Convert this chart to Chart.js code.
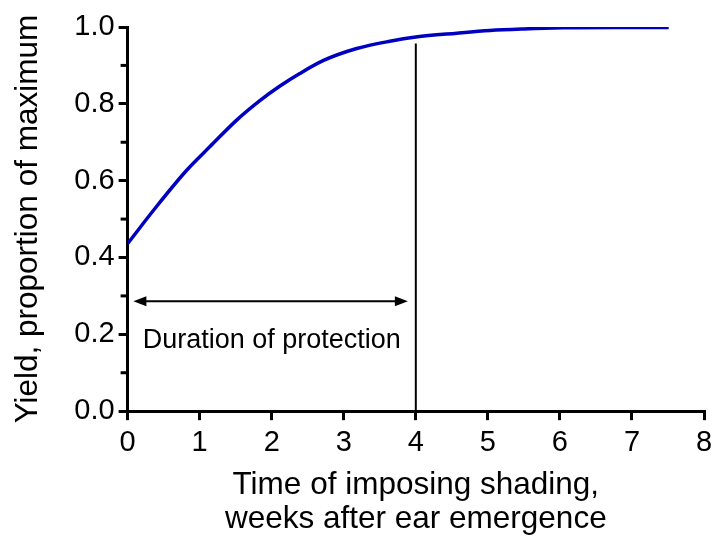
<!DOCTYPE html>
<html>
<head>
<meta charset="utf-8">
<script src="https://cdn.jsdelivr.net/npm/chart.js@4"></script>
<style>
  html, body { margin: 0; padding: 0; background: #fff; }
  #wrap { width: 713px; height: 536px; }
</style>
</head>
<body>
<div id="wrap"><canvas id="yieldChart"></canvas></div>
<script>
// --- Data ---
const weeks = [0, 0.36, 0.82, 1.14, 1.51, 1.84, 2.12, 2.39, 2.72, 3.18, 3.64, 4.0, 4.57, 5.03, 5.5, 6.04, 6.8, 7.51];
const yieldFrac = [0.436, 0.523, 0.627, 0.688, 0.757, 0.809, 0.847, 0.879, 0.913, 0.944, 0.963, 0.974, 0.984, 0.991, 0.995, 0.998, 0.999, 0.999];
const cutoffWeek = 4;
const cutoffTop = 0.957;
const xTicks = [0, 1, 2, 3, 4, 5, 6, 7, 8];
const yTicks = [0, 0.2, 0.4, 0.6, 0.8, 1.0];
const yMinor = [0.1, 0.3, 0.5, 0.7, 0.9];
const arrowFrom = 0.08, arrowTo = 3.89, arrowY = 0.286;
const noteText = "Duration of protection";
const noteX = 2.0, noteY = 0.184;

const FONT = "'Liberation Sans', Arial, sans-serif";

// --- Extras: minor ticks, double arrow, note ---
const extras = {
  id: "extras",
  afterDraw(chart) {
    const { ctx, scales: { x, y } } = chart;
    ctx.save();
    ctx.strokeStyle = "#000";
    ctx.lineWidth = 3;
    yMinor.forEach(v => {
      const py = y.getPixelForValue(v);
      ctx.beginPath();
      ctx.moveTo(x.left - 7, py);
      ctx.lineTo(x.left, py);
      ctx.stroke();
    });

    // double-headed arrow
    const ax1 = x.getPixelForValue(arrowFrom), ax2 = x.getPixelForValue(arrowTo);
    const ay = y.getPixelForValue(arrowY);
    ctx.lineWidth = 2;
    ctx.beginPath();
    ctx.moveTo(ax1 + 8, ay);
    ctx.lineTo(ax2 - 8, ay);
    ctx.stroke();
    ctx.fillStyle = "#000";
    ctx.beginPath();
    ctx.moveTo(ax1, ay); ctx.lineTo(ax1 + 13, ay - 5); ctx.lineTo(ax1 + 13, ay + 5); ctx.closePath();
    ctx.fill();
    ctx.beginPath();
    ctx.moveTo(ax2, ay); ctx.lineTo(ax2 - 13, ay - 5); ctx.lineTo(ax2 - 13, ay + 5); ctx.closePath();
    ctx.fill();

    ctx.font = "27px " + FONT;
    ctx.textAlign = "center";
    ctx.textBaseline = "middle";
    ctx.fillText(noteText, x.getPixelForValue(noteX), y.getPixelForValue(noteY));
    ctx.restore();
  }
};

new Chart(document.getElementById("yieldChart"), {
  type: "line",
  data: {
    datasets: [
      {
        data: weeks.map((w, i) => ({ x: w, y: yieldFrac[i] })),
        borderColor: "#0000c0",
        borderWidth: 3.5,
        pointRadius: 0,
        cubicInterpolationMode: "monotone",
        fill: false
      },
      {
        data: [{ x: cutoffWeek, y: 0 }, { x: cutoffWeek, y: cutoffTop }],
        borderColor: "#000",
        borderWidth: 2,
        pointRadius: 0
      }
    ]
  },
  options: {
    responsive: true,
    maintainAspectRatio: false,
    animation: false,
    layout: { padding: { top: 27, right: 0, left: 9, bottom: 0 } },
    plugins: { legend: { display: false }, tooltip: { enabled: false } },
    scales: {
      x: {
        type: "linear",
        min: 0, max: 8,
        afterBuildTicks: s => { s.ticks = xTicks.map(v => ({ value: v })); },
        afterFit: s => { s.paddingRight = 9; },
        border: { color: "#000", width: 3 },
        grid: { drawOnChartArea: false, color: "#000", lineWidth: 3, tickLength: 9 },
        ticks: { color: "#000", font: { family: FONT, size: 29 }, padding: 5, maxRotation: 0 },
        title: {
          display: true,
          text: ["Time of imposing shading,", "weeks after ear emergence"],
          color: "#000",
          font: { family: FONT, size: 31.5, lineHeight: 1.08 },
          padding: { top: 3, bottom: 0 }
        }
      },
      y: {
        min: 0, max: 1,
        afterBuildTicks: s => { s.ticks = yTicks.map(v => ({ value: v })); },
        border: { color: "#000", width: 3 },
        grid: { drawOnChartArea: false, color: "#000", lineWidth: 3, tickLength: 9 },
        ticks: { color: "#000", font: { family: FONT, size: 29 }, padding: 4, callback: v => v.toFixed(1) },
        title: {
          display: true,
          text: "Yield, proportion of maximum",
          color: "#000",
          font: { family: FONT, size: 31.5 },
          padding: { top: 0, bottom: 23.5 }
        }
      }
    }
  },
  plugins: [extras]
});
</script>
</body>
</html>
